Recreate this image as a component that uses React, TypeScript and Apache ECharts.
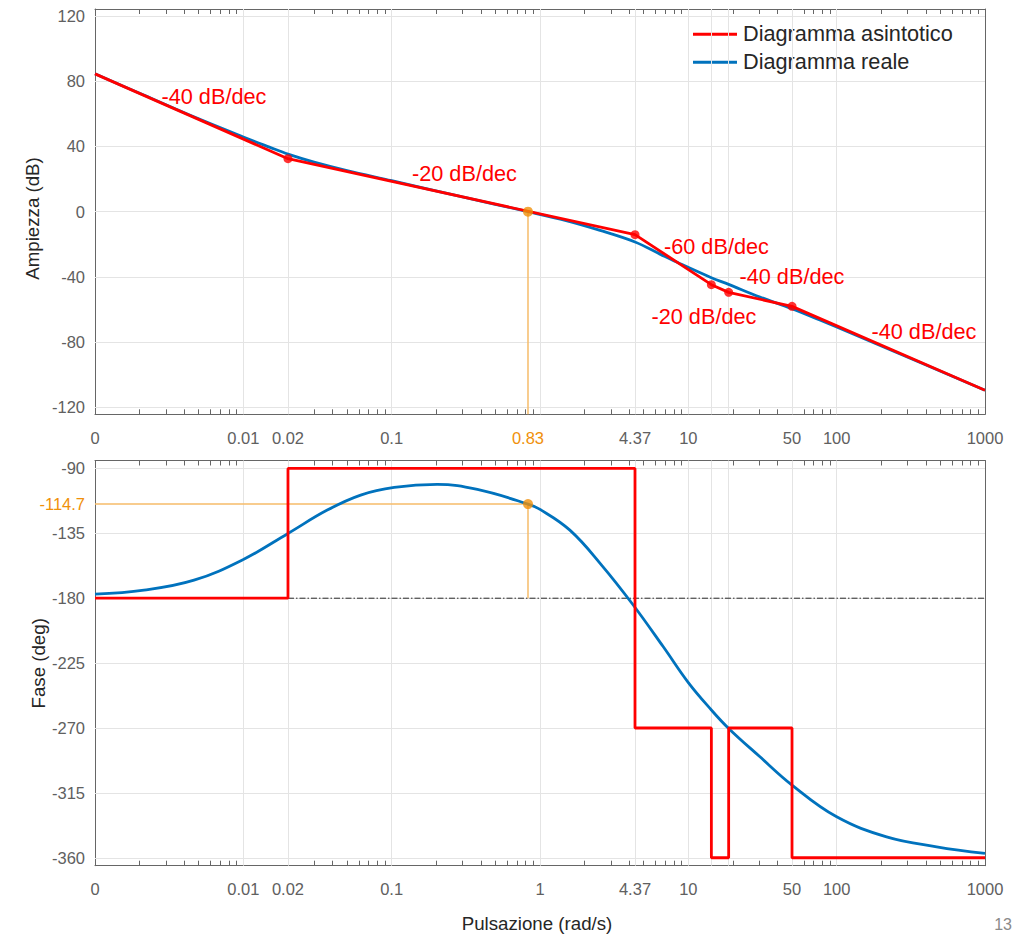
import React, { useEffect, useRef } from 'react';
import * as echarts from 'echarts';

const FONT = '"Liberation Sans", Arial, Helvetica, sans-serif';
const RED = '#FF0000';
const BLUE = '#0072BD';
const ORANGE = '#F0900A';
const ORANGE_LINE = '#F6BC6A';
const AXIS = '#666666';
const GRID = '#e4e4e4';
const LABEL = '#606060';
const DARK = '#262626';

// ---- axis values ----
const xMin = 0.001;
const xMax = 1000;
const magXLabelValues = [0.001, 0.01, 0.02, 0.1, 0.83, 4.37, 10, 50, 100, 1000];
const magXLabelTexts = ['0', '0.01', '0.02', '0.1', '0.83', '4.37', '10', '50', '100', '1000'];
const phaseXLabelValues = [0.001, 0.01, 0.02, 0.1, 1, 4.37, 10, 50, 100, 1000];
const phaseXLabelTexts = ['0', '0.01', '0.02', '0.1', '1', '4.37', '10', '50', '100', '1000'];
const xMajorValues = [0.01, 0.02, 0.1, 1, 4.37, 10, 14.3, 18.7, 50, 100];
const decades = [0.001, 0.01, 0.1, 1, 10, 100];
const minorMultipliers = [2, 3, 4, 5, 6, 7, 8, 9];
const xMinorValues = decades.flatMap((d) => minorMultipliers.map((m) => +(m * d).toPrecision(6)));

const magRange = [-124.3, 124.3];
const magTicks = [-120, -80, -40, 0, 40, 80, 120];
const phaseRange = [-365.5, -84.5];
const phaseTicks = [-360, -315, -270, -225, -180, -135, -90];
const phaseLabelValues = [-360, -315, -270, -225, -180, -135, -114.7, -90];

// ---- data ----
const asymW = [0.001, 0.02, 4.37, 14.3, 18.7, 50, 1000];
const asymMag = [84.5, 32.5, -14.1, -44.8, -49.5, -58.1, -109.6];
const asymPhase = [-180, -90, -270, -360, -270, -360, -360];
const breakW = [0.02, 4.37, 14.3, 18.7, 50];
const breakMag = [32.5, -14.1, -44.8, -49.5, -58.1];

const realMagW = [0.001, 0.002, 0.005, 0.01, 0.015, 0.02, 0.03, 0.05, 0.1, 0.3, 0.83, 1.5, 2.54, 4.37, 6.5, 8.8, 14.3, 18.7, 30.4, 50, 77, 100, 200, 1000];
const realMag = [84.55, 72.6, 56.9, 45.8, 39.6, 35.3, 30.4, 25.2, 19.0, 9.0, 0, -5.5, -11.5, -18.6, -26.2, -31.9, -40.5, -44.6, -52.4, -59.5, -66.5, -70.8, -82.4, -109.6];

const realPhaseW = [0.001, 0.00214, 0.00465, 0.01, 0.02, 0.0368, 0.0618, 0.104, 0.203, 0.378, 0.83, 1.0, 1.59, 2.6, 4.2, 6.78, 10, 14.3, 18.7, 30.4, 50, 100, 217, 472, 1000];
const realPhase = [-177.2, -174.4, -167.5, -153.1, -135.1, -118.9, -108.5, -103.2, -101.1, -104.6, -114.7, -118.4, -132.8, -157.0, -184.0, -213.7, -238.5, -257.5, -270.3, -290.0, -309.6, -331.6, -345.5, -352.4, -357.0];

const crossW = 0.83;
const crossPhase = -114.7;
const refPhase = -180;
const refStartW = 0.02;

const slopeTexts = ['-40 dB/dec', '-20 dB/dec', '-60 dB/dec', '-40 dB/dec', '-20 dB/dec', '-40 dB/dec'];
const slopePos = [
  [161.5, 96.5], [412, 173.5], [664, 246.5], [739.5, 276.5], [651.5, 316], [871.5, 331.5],
];

const legendNames = ['Diagramma asintotico', 'Diagramma reale'];

const pair = (xs: number[], ys: number[]) => xs.map((x, i) => [x, ys[i]]);

const sameLog = (a: number, b: number) => Math.abs(Math.log10(a) - Math.log10(b)) < 1e-4;

function xLabelFormatter(vals: number[], texts: string[], highlight: number) {
  return (v: any) => {
    const n = typeof v === 'number' ? v : parseFloat(v);
    const i = vals.findIndex((x) => sameLog(x, n));
    if (i < 0) return '';
    return sameLog(vals[i], highlight) ? `{o|${texts[i]}}` : texts[i];
  };
}

const labelRich = {
  o: { color: ORANGE, fontSize: 16.5, fontFamily: FONT },
};

function makeXAxes(gridIndex: number, labelVals: number[], labelTexts: string[], highlight: number) {
  const base: any = {
    type: 'log',
    logBase: 10,
    min: xMin,
    max: xMax,
    gridIndex,
    splitLine: { show: false },
    minorTick: { show: false },
    minorSplitLine: { show: false },
    silent: true,
  };
  const line = { show: true, onZero: false, lineStyle: { color: AXIS, width: 1 } };
  return [
    {
      ...base,
      position: 'bottom',
      axisLine: line,
      axisTick: { show: true, inside: true, length: 9, customValues: xMajorValues, lineStyle: { color: AXIS } },
      axisLabel: {
        show: true,
        customValues: labelVals,
        formatter: xLabelFormatter(labelVals, labelTexts, highlight),
        margin: 15,
        color: LABEL,
        fontSize: 16.5,
        fontFamily: FONT,
        rich: labelRich,
      },
    },
    {
      ...base,
      position: 'top',
      axisLine: line,
      axisTick: { show: true, inside: true, length: 9, customValues: xMajorValues, lineStyle: { color: AXIS } },
      axisLabel: { show: false },
    },
    {
      ...base,
      position: 'bottom',
      axisLine: { show: false, onZero: false },
      axisTick: { show: true, inside: true, length: 5, customValues: xMinorValues, lineStyle: { color: AXIS } },
      axisLabel: { show: false },
    },
    {
      ...base,
      position: 'top',
      axisLine: { show: false, onZero: false },
      axisTick: { show: true, inside: true, length: 5, customValues: xMinorValues, lineStyle: { color: AXIS } },
      axisLabel: { show: false },
    },
  ];
}

function makeYAxes(gridIndex: number, range: number[], ticks: number[], labels: number[], highlight: number | null) {
  const base: any = {
    type: 'value',
    gridIndex,
    min: range[0],
    max: range[1],
    splitLine: { show: false },
    silent: true,
  };
  const line = { show: true, onZero: false, lineStyle: { color: AXIS, width: 1 } };
  return [
    {
      ...base,
      position: 'left',
      axisLine: line,
      axisTick: { show: true, inside: true, length: 9, customValues: ticks, lineStyle: { color: AXIS } },
      axisLabel: {
        show: true,
        customValues: labels,
        margin: 10,
        color: LABEL,
        fontSize: 16.5,
        fontFamily: FONT,
        rich: labelRich,
        formatter: (v: any) => {
          const n = typeof v === 'number' ? v : parseFloat(v);
          const t = String(Math.round(n * 10) / 10);
          return highlight !== null && Math.abs(n - highlight) < 1e-6 ? `{o|${t}}` : t;
        },
      },
    },
    {
      ...base,
      position: 'right',
      axisLine: line,
      axisTick: { show: true, inside: true, length: 9, customValues: ticks, lineStyle: { color: AXIS } },
      axisLabel: { show: false },
    },
  ];
}

function gridLinesSeries(xAxisIndex: number, yAxisIndex: number, yVals: number[]) {
  return {
    type: 'line',
    xAxisIndex,
    yAxisIndex,
    data: [[1, yVals[0]]],
    showSymbol: false,
    symbol: 'none',
    lineStyle: { opacity: 0 },
    silent: true,
    z: 1,
    markLine: {
      z: 1,
      silent: true,
      symbol: ['none', 'none'],
      label: { show: false },
      emphasis: { disabled: true },
      lineStyle: { color: GRID, width: 1, type: 'solid' },
      data: [...xMajorValues.map((v) => ({ xAxis: v })), ...yVals.map((v) => ({ yAxis: v }))],
    },
  };
}

function buildOption(): any {
  const textStyle = (size: number, color: string) => ({ fontSize: size, fontFamily: FONT, fill: color });
  const graphic: any[] = [];
  // legend (drawn manually)
  const legendColors = [RED, BLUE];
  const legendRows = [34.3, 62.3];
  legendNames.forEach((name, i) => {
    graphic.push({
      type: 'line',
      shape: { x1: 693, y1: legendRows[i], x2: 737, y2: legendRows[i] },
      style: { stroke: legendColors[i], lineWidth: 3 },
      silent: true,
    });
    graphic.push({
      type: 'text',
      x: 743,
      y: legendRows[i] - 1.2,
      style: { text: name, ...textStyle(21.7, DARK), textAlign: 'left', textVerticalAlign: 'middle' },
      silent: true,
    });
  });
  slopeTexts.forEach((t, i) => {
    graphic.push({
      type: 'text',
      x: slopePos[i][0],
      y: slopePos[i][1],
      z: 10,
      style: { text: t, ...textStyle(21.7, RED), textAlign: 'left', textVerticalAlign: 'middle' },
      silent: true,
    });
  });
  graphic.push({
    type: 'text',
    x: 32,
    y: 218.5,
    rotation: Math.PI / 2,
    style: { text: 'Ampiezza (dB)', ...textStyle(18.7, DARK), textAlign: 'center', textVerticalAlign: 'middle' },
    silent: true,
  });
  graphic.push({
    type: 'text',
    x: 38.5,
    y: 663.3,
    rotation: Math.PI / 2,
    style: { text: 'Fase (deg)', ...textStyle(18.7, DARK), textAlign: 'center', textVerticalAlign: 'middle' },
    silent: true,
  });
  graphic.push({
    type: 'text',
    x: 537,
    y: 923.6,
    style: { text: 'Pulsazione (rad/s)', ...textStyle(18.7, DARK), textAlign: 'center', textVerticalAlign: 'middle' },
    silent: true,
  });
  graphic.push({
    type: 'text',
    x: 1012,
    y: 932,
    style: { text: '13', ...textStyle(16, '#8a8a8a'), textAlign: 'right', textVerticalAlign: 'bottom' },
    silent: true,
  });

  const xAxis = [
    ...makeXAxes(0, magXLabelValues, magXLabelTexts, crossW),
    ...makeXAxes(1, phaseXLabelValues, phaseXLabelTexts, -1),
  ];
  const yAxis = [
    ...makeYAxes(0, magRange, magTicks, magTicks, null),
    ...makeYAxes(1, phaseRange, phaseTicks, phaseLabelValues, crossPhase),
  ];

  const series: any[] = [
    // --- magnitude ---
    gridLinesSeries(0, 0, magTicks),
    {
      type: 'line', xAxisIndex: 0, yAxisIndex: 0, silent: true, symbol: 'none', z: 2,
      lineStyle: { color: ORANGE_LINE, width: 1.5 },
      data: [[crossW, 0], [crossW, magRange[0]]],
    },
    {
      name: legendNames[1], type: 'line', xAxisIndex: 0, yAxisIndex: 0, silent: true, symbol: 'none', z: 3,
      smooth: 0.35, lineStyle: { color: BLUE, width: 2.8 }, itemStyle: { color: BLUE },
      data: pair(realMagW, realMag),
    },
    {
      name: legendNames[0], type: 'line', xAxisIndex: 0, yAxisIndex: 0, silent: true, symbol: 'none', z: 4,
      lineStyle: { color: RED, width: 2.8 }, itemStyle: { color: RED },
      data: pair(asymW, asymMag),
    },
    {
      type: 'scatter', xAxisIndex: 0, yAxisIndex: 0, silent: true, z: 5, symbolSize: 9,
      itemStyle: { color: RED },
      data: pair(breakW, breakMag),
    },
    {
      type: 'scatter', xAxisIndex: 0, yAxisIndex: 0, silent: true, z: 6, symbolSize: 10,
      itemStyle: { color: ORANGE },
      data: [[crossW, 0]],
    },
    // --- phase ---
    gridLinesSeries(4, 2, phaseTicks),
    {
      type: 'line', xAxisIndex: 4, yAxisIndex: 2, silent: true, symbol: 'none', z: 2,
      lineStyle: { color: '#2a2a2a', width: 1, type: [6, 2, 1.5, 2] },
      data: [[refStartW, refPhase], [xMax, refPhase]],
    },
    {
      type: 'line', xAxisIndex: 4, yAxisIndex: 2, silent: true, symbol: 'none', z: 2,
      lineStyle: { color: ORANGE_LINE, width: 1.5 },
      data: [[xMin, crossPhase], [crossW, crossPhase], [crossW, refPhase]],
    },
    {
      name: legendNames[1], type: 'line', xAxisIndex: 4, yAxisIndex: 2, silent: true, symbol: 'none', z: 3,
      smooth: 0.4, lineStyle: { color: BLUE, width: 2.8 }, itemStyle: { color: BLUE },
      data: pair(realPhaseW, realPhase),
    },
    {
      name: legendNames[0], type: 'line', xAxisIndex: 4, yAxisIndex: 2, silent: true, symbol: 'none', z: 4,
      step: 'end', lineStyle: { color: RED, width: 2.8 }, itemStyle: { color: RED },
      data: pair(asymW, asymPhase),
    },
    {
      type: 'scatter', xAxisIndex: 4, yAxisIndex: 2, silent: true, z: 6, symbolSize: 10,
      itemStyle: { color: ORANGE },
      data: [[crossW, crossPhase]],
    },
  ];

  return {
    animation: false,
    backgroundColor: '#ffffff',
    textStyle: { fontFamily: FONT },
    grid: [
      { left: 95, width: 890, top: 9, height: 405.3, containLabel: false, outerBoundsMode: 'none' },
      { left: 95, width: 890, top: 460.5, height: 405.2, containLabel: false, outerBoundsMode: 'none' },
    ],
    xAxis,
    yAxis,
    series,
    graphic,
  };
}

export default function App() {
  const ref = useRef<HTMLDivElement>(null);
  useEffect(() => {
    if (!ref.current) return;
    const chart = echarts.init(ref.current, undefined, { renderer: 'svg' });
    chart.setOption(buildOption());
    return () => chart.dispose();
  }, []);
  return (
    <div
      ref={ref}
      style={{ position: 'fixed', left: 0, top: 0, width: 1025, height: 934, background: '#fff' }}
    />
  );
}
